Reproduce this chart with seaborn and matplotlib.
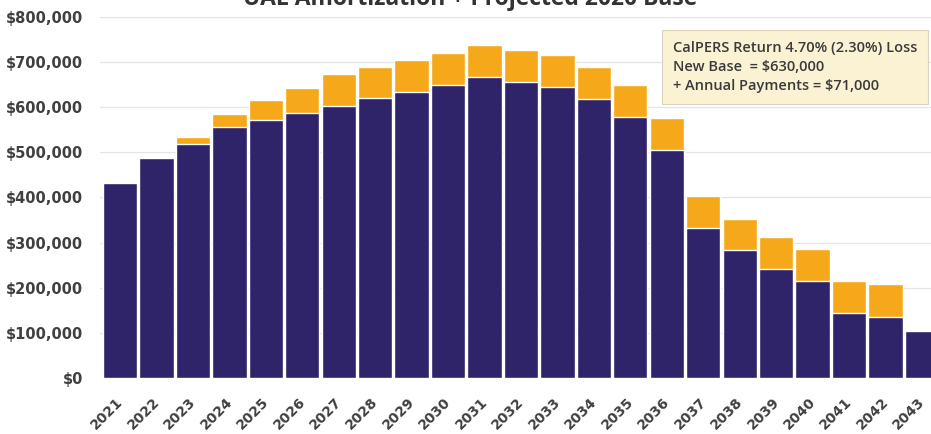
import matplotlib
matplotlib.use("Agg")
import matplotlib.pyplot as plt
import matplotlib.transforms as mtransforms
from matplotlib.ticker import FuncFormatter
import seaborn as sns
import pandas as pd

years = [str(y) for y in range(2021, 2044)]
base = [432000, 487000, 518000, 556000, 572000, 587000, 602000, 620000, 633000,
        650000, 667000, 657000, 644000, 619000, 578000, 506000, 332000, 284000,
        242000, 216000, 143000, 136000, 104000]
added = [0, 0, 16000, 28000, 43000, 55000, 71000, 70000, 72000, 71000, 71000,
         69000, 71000, 71000, 72000, 70000, 72000, 68000, 70000, 70000, 72000,
         72000, 0]
title = "UAL Amortization + Projected 2020 Base"
note = "CalPERS Return 4.70% (2.30%) Loss\nNew Base  = $630,000\n+ Annual Payments = $71,000"

df = pd.DataFrame({"year": years, "base": base, "added": added})
df["total"] = df["base"] + df["added"]

sns.set_theme(style="white")
plt.rcParams["font.family"] = ["Open Sans", "DejaVu Sans"]

NAVY = "#2F2369"
ORANGE = "#F5A81A"
TXT = "#404040"

fig = plt.figure(figsize=(9.31, 4.34), dpi=100)
ax = fig.add_axes([100 / 931, 1 - 378 / 434, 1 - 100 / 931, (378 - 17) / 434])

sns.barplot(data=df, x="year", y="total", color=ORANGE, width=0.94,
            saturation=1, ax=ax, zorder=2)
sns.barplot(data=df, x="year", y="base", color=NAVY, width=0.94,
            saturation=1, ax=ax, zorder=3)

ax.set_ylim(0, 800000)
ax.set_xlim(-0.55, 22.25)
ax.set_yticks(range(0, 800001, 100000))
ax.yaxis.set_major_formatter(FuncFormatter(lambda v, p: f"${v:,.0f}"))
ax.grid(axis="y", color="#E4E4E4", linewidth=0.9, zorder=0)
ax.set_axisbelow(True)
for s in ax.spines.values():
    s.set_visible(False)
ax.set_xlabel("")
ax.set_ylabel("")
ax.tick_params(axis="both", length=0, colors=TXT)
ax.tick_params(axis="y", pad=12)
for lab in ax.get_yticklabels():
    lab.set_family("DejaVu Sans")
    lab.set_fontsize(10.5)
    lab.set_fontweight("bold")
    lab.set_color(TXT)

offset = mtransforms.ScaledTranslation(-3 / 72, -8.5 / 72, fig.dpi_scale_trans)
for lab in ax.get_xticklabels():
    lab.set_rotation(45)
    lab.set_ha("right")
    lab.set_va("top")
    lab.set_rotation_mode("anchor")
    lab.set_family("DejaVu Sans")
    lab.set_fontsize(10)
    lab.set_fontweight("bold")
    lab.set_color(TXT)
    lab.set_transform(lab.get_transform() + offset)

fig.text(470 / 931, 1 - 5 / 434, title, ha="center", va="baseline",
         fontsize=16.5, fontweight="bold", color="#333333")

ax.text(673 / 931, 1 - 41 / 434, note, transform=fig.transFigure,
        ha="left", va="top", fontsize=10.5, fontweight="semibold",
        color="#3A3A3A", linespacing=1.45, zorder=5,
        bbox=dict(boxstyle="square,pad=0.75", facecolor="#FBF1D3",
                  edgecolor="#D9D3C0", linewidth=0.8))

fig.savefig("out.png", dpi=100, facecolor="white")
